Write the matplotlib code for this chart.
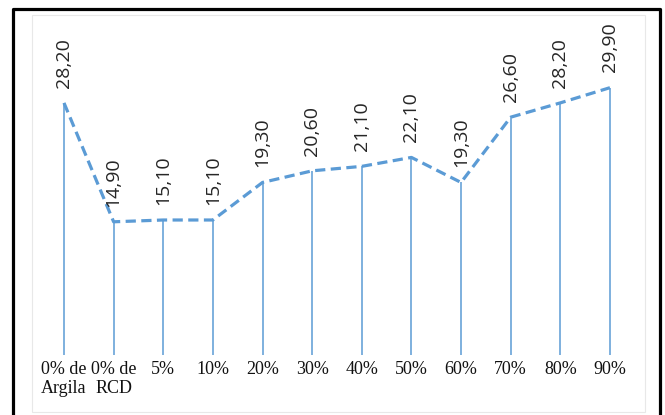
import matplotlib
matplotlib.use("Agg")
import matplotlib.pyplot as plt
from matplotlib.lines import Line2D
from matplotlib.patches import Rectangle

categories = ["0% de\nArgila", "0% de\nRCD", "5%", "10%", "20%", "30%",
              "40%", "50%", "60%", "70%", "80%", "90%"]
values = [28.20, 14.90, 15.10, 15.10, 19.30, 20.60,
          21.10, 22.10, 19.30, 26.60, 28.20, 29.90]
value_labels = ["28,20", "14,90", "15,10", "15,10", "19,30", "20,60",
                "21,10", "22,10", "19,30", "26,60", "28,20", "29,90"]

blue = "#5B9BD5"

fig = plt.figure(figsize=(6.65, 4.15), dpi=100)
ax = fig.add_axes([0.0589, 0.1446, 0.8956, 0.8186])

x = list(range(len(values)))

# drop lines from each point to the base
ax.vlines(x, 0, values, color=blue, lw=1.1)
# dashed line joining the points
ax.plot(x, values, color=blue, lw=2.3, ls=(0, (3.2, 1.7)))

for xi, v, lab in zip(x, values, value_labels):
    ax.annotate(lab, (xi, v), xytext=(0, 11), textcoords="offset points",
                rotation=90, ha="center", va="bottom", fontsize=14,
                family="Open Sans", color="#262626")

ax.set_xlim(-0.5, 11.5)
ax.set_ylim(0, 38)
ax.set_xticks(x)
ax.set_xticklabels(categories, family="Liberation Serif", fontsize=13,
                   color="#111111", linespacing=1.2)
ax.tick_params(axis="x", length=0, pad=4)
ax.set_yticks([])
for s in ax.spines.values():
    s.set_visible(False)

# faint chart area border
W, H = 665.0, 415.0
fig.add_artist(Rectangle((32 / W, 3 / H), (645 - 32) / W, (400 - 3) / H,
                         transform=fig.transFigure, fill=False,
                         ec="#e8e8e8", lw=0.8))

# black frame (bottom edge falls outside the picture)
fx = [13 / W, 13 / W, 660 / W, 660 / W]
fy = [-0.01, 1 - 9 / H, 1 - 9 / H, -0.01]
fig.add_artist(Line2D(fx, fy, transform=fig.transFigure, color="black", lw=2.3))

fig.savefig("out.png", dpi=100)
